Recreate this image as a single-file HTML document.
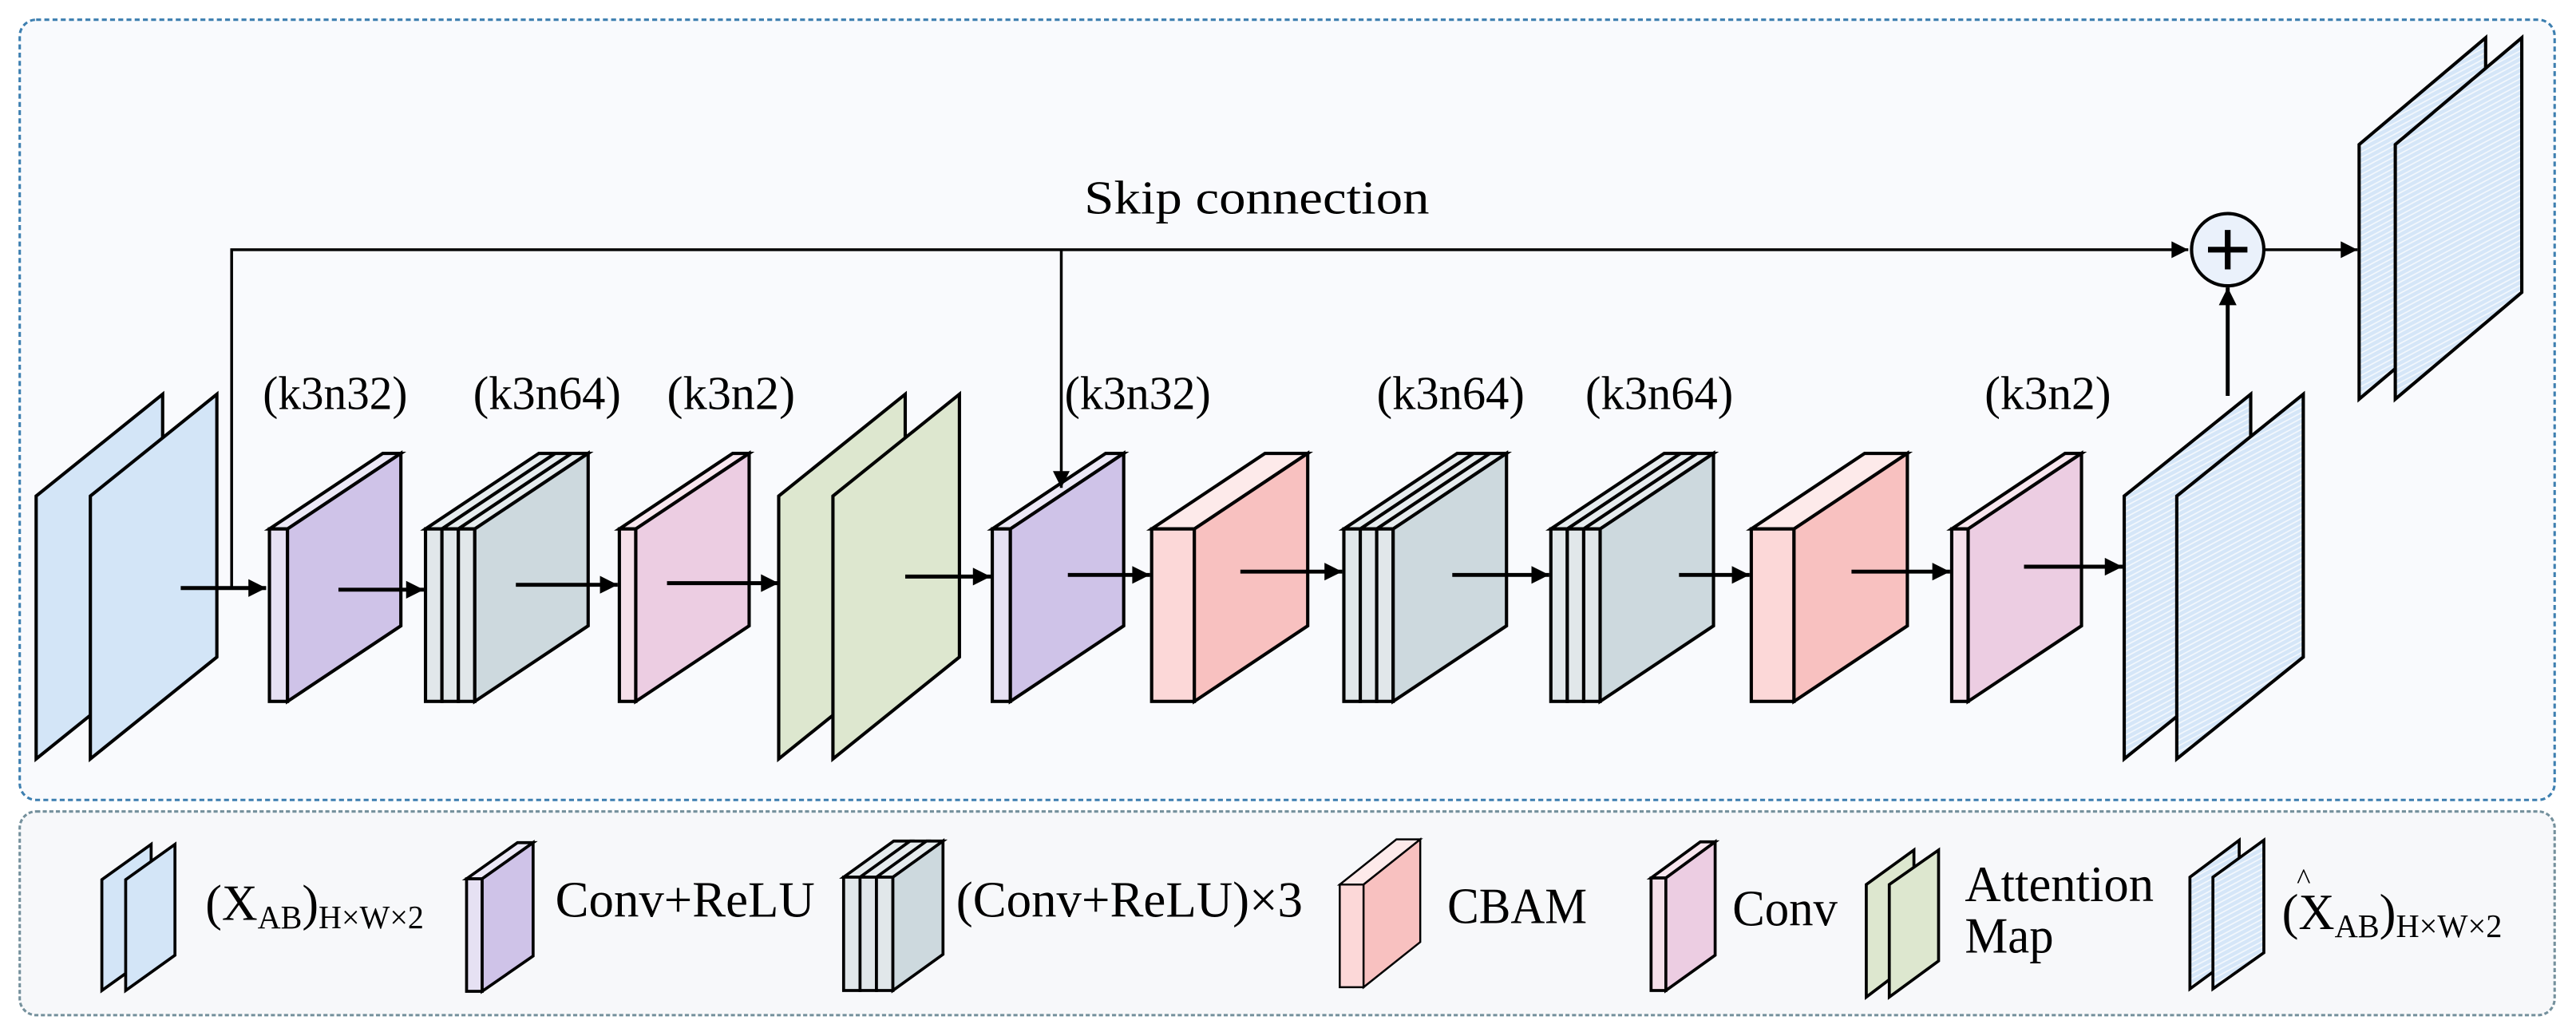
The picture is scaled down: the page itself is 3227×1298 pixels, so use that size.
<!DOCTYPE html>
<html><head><meta charset="utf-8"><style>html,body{margin:0;padding:0;background:#fff}svg{display:block}text{font-family:"Liberation Serif","Times New Roman",serif}</style></head>
<body>
<svg width="3227" height="1298" viewBox="0 0 1568 630.7" xmlns="http://www.w3.org/2000/svg">
<defs>
<pattern id="h" width="3" height="3" patternUnits="userSpaceOnUse" patternTransform="rotate(-28)">
<rect width="3" height="3" fill="#d5e6f8"/><line x1="0" y1="0.5" x2="3" y2="0.5" stroke="#f4f8fd" stroke-width="0.8"/>
</pattern>
<marker id="a" viewBox="0 0 10 10" refX="10" refY="5" markerWidth="5.5" markerHeight="4.5" orient="auto" markerUnits="strokeWidth"><path d="M0,0L10,5L0,10z" fill="#000"/></marker>
<marker id="b" viewBox="0 0 10 10" refX="10" refY="5" markerWidth="7" markerHeight="6" orient="auto" markerUnits="strokeWidth"><path d="M0,0L10,5L0,10z" fill="#000"/></marker>
</defs>
<rect x="12" y="12" width="1543" height="475" rx="10" fill="#f9fafd" stroke="#3d7fb0" stroke-width="1.5" stroke-dasharray="3 2"/>
<rect x="12" y="494" width="1543" height="124" rx="10" fill="#f7f8fa" stroke="#74909c" stroke-width="1.5" stroke-dasharray="2.5 1.5"/>

<g stroke="#000" stroke-width="2" stroke-linejoin="miter">
<polygon points="22,302 99,240 99,400 22,462" fill="#d3e5f7"/>
<polygon points="55,302 132,240 132,400 55,462" fill="#d3e5f7"/>
<polygon points="164,322 175,322 244,276 233,276" fill="#ece8f6"/>
<rect x="164" y="322" width="11" height="105" fill="#e6e1f3"/>
<polygon points="175,322 244,276 244,381 175,427" fill="#cfc3e8"/>
<polygon points="259,322 269,322 338,276 328,276" fill="#e6ecee"/>
<polygon points="269,322 279,322 348,276 338,276" fill="#e6ecee"/>
<polygon points="279,322 289,322 358,276 348,276" fill="#e6ecee"/>
<rect x="259" y="322" width="10" height="105" fill="#e1e7ea"/>
<rect x="269" y="322" width="10" height="105" fill="#e1e7ea"/>
<rect x="279" y="322" width="10" height="105" fill="#e1e7ea"/>
<polygon points="289,322 358,276 358,381 289,427" fill="#cdd9de"/>
<polygon points="377,322 387,322 456,276 446,276" fill="#f8e6ee"/>
<rect x="377" y="322" width="10" height="105" fill="#f5e0ea"/>
<polygon points="387,322 456,276 456,381 387,427" fill="#eccde2"/>
<polygon points="474,302 551,240 551,400 474,462" fill="#dde7cf"/>
<polygon points="507,302 584,240 584,400 507,462" fill="#dde7cf"/>
<polygon points="604,322 615,322 684,276 673,276" fill="#ece8f6"/>
<rect x="604" y="322" width="11" height="105" fill="#e6e1f3"/>
<polygon points="615,322 684,276 684,381 615,427" fill="#cfc3e8"/>
<polygon points="701,322 727,322 796,276 770,276" fill="#fdeaea"/>
<rect x="701" y="322" width="26" height="105" fill="#fcd8d8"/>
<polygon points="727,322 796,276 796,381 727,427" fill="#f8c1c0"/>
<polygon points="818,322 828,322 897,276 887,276" fill="#e6ecee"/>
<polygon points="828,322 838,322 907,276 897,276" fill="#e6ecee"/>
<polygon points="838,322 848,322 917,276 907,276" fill="#e6ecee"/>
<rect x="818" y="322" width="10" height="105" fill="#e1e7ea"/>
<rect x="828" y="322" width="10" height="105" fill="#e1e7ea"/>
<rect x="838" y="322" width="10" height="105" fill="#e1e7ea"/>
<polygon points="848,322 917,276 917,381 848,427" fill="#cdd9de"/>
<polygon points="944,322 954,322 1023,276 1013,276" fill="#e6ecee"/>
<polygon points="954,322 964,322 1033,276 1023,276" fill="#e6ecee"/>
<polygon points="964,322 974,322 1043,276 1033,276" fill="#e6ecee"/>
<rect x="944" y="322" width="10" height="105" fill="#e1e7ea"/>
<rect x="954" y="322" width="10" height="105" fill="#e1e7ea"/>
<rect x="964" y="322" width="10" height="105" fill="#e1e7ea"/>
<polygon points="974,322 1043,276 1043,381 974,427" fill="#cdd9de"/>
<polygon points="1066,322 1092,322 1161,276 1135,276" fill="#fdeaea"/>
<rect x="1066" y="322" width="26" height="105" fill="#fcd8d8"/>
<polygon points="1092,322 1161,276 1161,381 1092,427" fill="#f8c1c0"/>
<polygon points="1188,322 1198,322 1267,276 1257,276" fill="#f8e6ee"/>
<rect x="1188" y="322" width="10" height="105" fill="#f5e0ea"/>
<polygon points="1198,322 1267,276 1267,381 1198,427" fill="#eccde2"/>
<polygon points="1293,302 1370,240 1370,400 1293,462" fill="url(#h)"/>
<polygon points="1325,302 1402,240 1402,400 1325,462" fill="url(#h)"/>
<polygon points="1436,88 1513,23 1513,178 1436,243" fill="url(#h)"/>
<polygon points="1458,88 1535,23 1535,178 1458,243" fill="url(#h)"/>
<circle cx="1356" cy="152" r="22" fill="#eaf1fb"/>
</g>
<g stroke="#000" stroke-width="3.5"><line x1="1344" y1="152" x2="1368" y2="152"/><line x1="1356" y1="140" x2="1356" y2="164"/></g>

<g stroke="#000" stroke-width="1.7" fill="none">
<polyline points="141,357 141,152 1332,152" marker-end="url(#b)"/>
<line x1="646" y1="152" x2="646" y2="297" marker-end="url(#b)"/>
<line x1="1378" y1="152" x2="1435" y2="152" marker-end="url(#b)"/>
</g>
<g stroke="#000" stroke-width="2.4" fill="none" marker-end="url(#a)">
<line x1="110" y1="358" x2="162" y2="358"/>
<line x1="206" y1="359" x2="258" y2="359"/>
<line x1="314" y1="356" x2="376" y2="356"/>
<line x1="406" y1="355" x2="474" y2="355"/>
<line x1="551" y1="351" x2="603" y2="351"/>
<line x1="650" y1="350" x2="700" y2="350"/>
<line x1="755" y1="348" x2="817" y2="348"/>
<line x1="884" y1="350" x2="943" y2="350"/>
<line x1="1022" y1="350" x2="1065" y2="350"/>
<line x1="1127" y1="348" x2="1187" y2="348"/>
<line x1="1232" y1="345" x2="1292" y2="345"/>
<line x1="1356" y1="241" x2="1356" y2="175"/>
</g>

<g font-size="29" fill="#000">
<text x="660" y="130" textLength="210" lengthAdjust="spacingAndGlyphs">Skip connection</text>
<text x="160" y="249" textLength="88" lengthAdjust="spacingAndGlyphs">(k3n32)</text>
<text x="288" y="249" textLength="90" lengthAdjust="spacingAndGlyphs">(k3n64)</text>
<text x="406" y="249" textLength="78" lengthAdjust="spacingAndGlyphs">(k3n2)</text>
<text x="648" y="249" textLength="89" lengthAdjust="spacingAndGlyphs">(k3n32)</text>
<text x="838" y="249" textLength="90" lengthAdjust="spacingAndGlyphs">(k3n64)</text>
<text x="965" y="249" textLength="90" lengthAdjust="spacingAndGlyphs">(k3n64)</text>
<text x="1208" y="249" textLength="77" lengthAdjust="spacingAndGlyphs">(k3n2)</text>
</g>

<g stroke="#000" stroke-width="1.8">
<polygon points="62,535.5 92,514 92,581.5 62,603" fill="#d3e5f7"/>
<polygon points="76.5,535.5 106.5,514 106.5,581.5 76.5,603" fill="#d3e5f7"/>
<polygon points="284,535 293.5,535 324.5,513 315,513" fill="#ece8f6"/>
<rect x="284" y="535" width="9.5" height="68.5" fill="#e6e1f3"/>
<polygon points="293.5,535 324.5,513 324.5,582 293.5,603.5" fill="#cfc3e8"/>
<polygon points="513.5,534 523.5,534 554,512 544,512" fill="#e6ecee"/>
<polygon points="523.5,534 533.5,534 564,512 554,512" fill="#e6ecee"/>
<polygon points="533.5,534 543.5,534 574,512 564,512" fill="#e6ecee"/>
<rect x="513.5" y="534" width="10" height="69" fill="#e1e7ea"/>
<rect x="523.5" y="534" width="10" height="69" fill="#e1e7ea"/>
<rect x="533.5" y="534" width="10" height="69" fill="#e1e7ea"/>
<polygon points="543.5,534 574,512 574,581 543.5,603" fill="#cdd9de"/>
<polygon points="815.5,538.5 830,538.5 864.5,511 850,511" fill="#fdeaea" stroke-width="1.2"/>
<rect x="815.5" y="538.5" width="14.5" height="62.5" fill="#fcd8d8" stroke-width="1.2"/>
<polygon points="830,538.5 864.5,511 864.5,573.5 830,601" fill="#f8c1c0" stroke-width="1.2"/>
<polygon points="1005,534.5 1014,534.5 1044,512.5 1035,512.5" fill="#f8e6ee"/>
<rect x="1005" y="534.5" width="9" height="68.5" fill="#f5e0ea"/>
<polygon points="1014,534.5 1044,512.5 1044,581.5 1014,603" fill="#eccde2"/>
<polygon points="1136,538.5 1165,517.5 1165,585 1136,607" fill="#dde7cf"/>
<polygon points="1150,538.5 1180,517.5 1180,585 1150,607" fill="#dde7cf"/>
<polygon points="1333,534 1363,511.5 1363,580 1333,602" fill="url(#h)"/>
<polygon points="1347,534 1378,511.5 1378,580 1347,602" fill="url(#h)"/>
</g>

<g font-size="31" fill="#000">
<text x="125" y="560" textLength="133" lengthAdjust="spacingAndGlyphs">(X<tspan font-size="20" dy="5">AB</tspan><tspan dy="-5">)</tspan><tspan font-size="20" dy="5">H×W×2</tspan></text>
<text x="338" y="558" textLength="158" lengthAdjust="spacingAndGlyphs">Conv+ReLU</text>
<text x="582" y="558" textLength="211" lengthAdjust="spacingAndGlyphs">(Conv+ReLU)×3</text>
<text x="881" y="562" textLength="85" lengthAdjust="spacingAndGlyphs">CBAM</text>
<text x="1054.5" y="563.5" textLength="64" lengthAdjust="spacingAndGlyphs">Conv</text>
<text x="1196" y="548.5" textLength="115" lengthAdjust="spacingAndGlyphs">Attention</text>
<text x="1196" y="580" textLength="54" lengthAdjust="spacingAndGlyphs">Map</text>
<text x="1389" y="565.5" textLength="134" lengthAdjust="spacingAndGlyphs">(X<tspan font-size="20" dy="5">AB</tspan><tspan dy="-5">)</tspan><tspan font-size="20" dy="5">H×W×2</tspan></text>
<text x="1398" y="541" font-size="18">^</text>
</g>
</svg>
</body></html>
